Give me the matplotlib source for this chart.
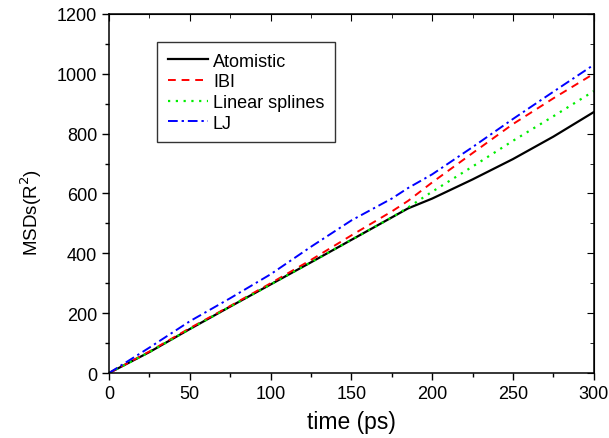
import matplotlib
matplotlib.use('Agg')
import matplotlib.pyplot as plt
from matplotlib.ticker import MultipleLocator

plt.rcParams['font.family'] = ['Liberation Sans', 'DejaVu Sans']

# time points (ps)
time = [0, 25, 50, 75, 100, 125, 150, 175, 185, 200, 225, 250, 275, 300]

# MSDs
atomistic = [0, 70, 147, 222, 296, 370, 445, 520, 550, 583, 647, 715, 790, 872]
ibi = [0, 72, 150, 224, 300, 378, 460, 540, 575, 637, 735, 832, 918, 1000]
linear_splines = [0, 70, 147, 222, 296, 370, 445, 520, 553, 606, 690, 776, 858, 942]
lj = [0, 85, 173, 250, 330, 422, 510, 583, 618, 664, 755, 849, 940, 1030]

fig = plt.figure(figsize=(6.09, 4.39), dpi=100)
ax = fig.add_axes([0.179, 0.148, 0.796, 0.818])

ax.plot(time, atomistic, '-', color='black', lw=1.6, label='Atomistic')
ax.plot(time, ibi, '--', color='red', lw=1.4, dashes=(4, 3), label='IBI')
ax.plot(time, linear_splines, ':', color='#00ee00', lw=1.6, dashes=(1, 2.5), label='Linear splines')
ax.plot(time, lj, '-.', color='blue', lw=1.4, dashes=(5, 2, 1.2, 2), label='LJ')

ax.set_xlim(0, 300)
ax.set_ylim(0, 1200)
ax.xaxis.set_major_locator(MultipleLocator(50))
ax.xaxis.set_minor_locator(MultipleLocator(25))
ax.yaxis.set_major_locator(MultipleLocator(200))
ax.yaxis.set_minor_locator(MultipleLocator(100))
ax.tick_params(which='major', direction='out', length=5, width=1, labelsize=13)
ax.tick_params(which='minor', direction='out', length=3, width=1)
for s in ax.spines.values():
    s.set_linewidth(1.1)

# inward ticks on top and right, like Origin
top = ax.secondary_xaxis('top')
top.xaxis.set_major_locator(MultipleLocator(50))
top.xaxis.set_minor_locator(MultipleLocator(25))
top.tick_params(which='major', direction='in', length=5, labeltop=False)
top.tick_params(which='minor', direction='in', length=3)
right = ax.secondary_yaxis('right')
right.yaxis.set_major_locator(MultipleLocator(200))
right.yaxis.set_minor_locator(MultipleLocator(100))
right.tick_params(which='major', direction='in', length=5, labelright=False)
right.tick_params(which='minor', direction='in', length=3)

ax.set_xlabel('time (ps)', fontsize=16.5, labelpad=6)
ax.set_ylabel('MSDs(R$^2$)', fontsize=13.5)
ax.yaxis.set_label_coords(-0.135, 0.45)

leg = ax.legend(loc='upper left', bbox_to_anchor=(0.099, 0.922), borderaxespad=0,
                fontsize=13, handlelength=2.2, handletextpad=0.3, labelspacing=0.2,
                fancybox=False, framealpha=1, borderpad=0.6)
leg.get_frame().set_edgecolor('#333333')
leg.get_frame().set_linewidth(1.0)

fig.savefig('out.png', dpi=100)
